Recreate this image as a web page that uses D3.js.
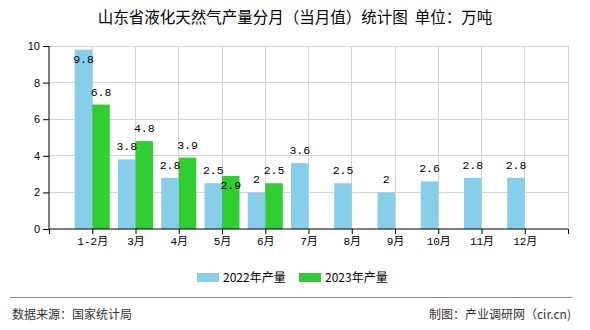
<!DOCTYPE html>
<html><head><meta charset="utf-8">
<script src="https://cdn.jsdelivr.net/npm/d3@7"></script>
<style>
html,body{margin:0;padding:0;background:#fff;}
svg{display:block;}
</style></head>
<body>
<svg id="chart" width="590" height="330"></svg>
<script>
const categories = ["1-2月","3月","4月","5月","6月","7月","8月","9月","10月","11月","12月"];
const values2022 = [9.8,3.8,2.8,2.5,2,3.6,2.5,2,2.6,2.8,2.8];
const values2023 = [6.8,4.8,3.9,2.9,2.5,null,null,null,null,null,null];
const seriesNames = ["2022年产量","2023年产量"];
const seriesColors = ["#87CEEB","#32CD32"];
const yTicks = [0,2,4,6,8,10];
// labels drawn inside the bar (series index, category)
const insideLabels = [[0,"1-2月"],[1,"5月"]];

(function(){
const svg = d3.select("#chart");
const pL = 49, pR = 568, pT = 46, pB = 229;

const x = d3.scaleLinear().domain([0, categories.length + 1]).range([pL, pR]);
const y = d3.scaleLinear().domain([0, 10]).range([pB, pT]);
const unit = x(1) - x(0);
const bw = unit * 0.405;

const numFont = "'Liberation Mono','Noto Sans CJK SC',monospace";
const cjkFont = "'Noto Sans CJK SC','Noto Sans',sans-serif";

// title
svg.append("text").attr("x", 295).attr("y", 23).attr("text-anchor", "middle")
  .attr("font-family", cjkFont).attr("font-size", 15.5).attr("fill", "#000")
  .attr("xml:space", "preserve").style("white-space", "pre")
  .text("山东省液化天然气产量分月（当月值）统计图  单位：万吨");

// grid
const grid = svg.append("g");
yTicks.filter(t => t > 0).forEach(t => {
  grid.append("line").attr("x1", pL).attr("x2", pR).attr("y1", y(t)).attr("y2", y(t))
    .attr("stroke", "#d3d3d3").attr("stroke-width", 1).attr("shape-rendering", "crispEdges");
});
d3.range(1, categories.length + 2).forEach(i => {
  grid.append("line").attr("x1", x(i)).attr("x2", x(i)).attr("y1", pT).attr("y2", pB)
    .attr("stroke", "#d3d3d3").attr("stroke-width", 1).attr("shape-rendering", "crispEdges");
});

// bars
const series = [values2022, values2023];
series.forEach((vals, si) => {
  const g = svg.append("g");
  vals.forEach((v, i) => {
    if (v == null) return;
    const cx = x(i + 1);
    const bx = si === 0 ? cx - bw : cx;
    g.append("rect").attr("x", bx).attr("y", y(v)).attr("width", bw).attr("height", pB - y(v))
      .attr("fill", seriesColors[si]);
  });
});
// labels
series.forEach((vals, si) => {
  vals.forEach((v, i) => {
    if (v == null) return;
    const cx = x(i + 1);
    const lx = si === 0 ? cx - bw / 2 : cx + bw / 2;
    const inside = insideLabels.some(d => d[0] === si && d[1] === categories[i]);
    const ly = inside ? y(v) + 9 : y(v) - 13;
    svg.append("text").attr("x", lx).attr("y", ly).attr("dy", "0.35em")
      .attr("text-anchor", "middle").attr("font-family", numFont).attr("font-size", 11.5)
      .attr("fill", "#000").text(v);
  });
});

// y axis
const yAxis = d3.axisLeft(y).tickValues(yTicks).tickSize(6).tickPadding(3).tickFormat(d3.format("d"));
const ya = svg.append("g").attr("transform", `translate(${pL},0)`).call(yAxis);
ya.select(".domain").attr("stroke", "#000").attr("d", `M0,${pT}V${pB}`);
ya.selectAll("text").attr("font-family", "'Liberation Sans',Arial,sans-serif").attr("font-size", 11).attr("fill", "#000");

// x axis
const xAxis = d3.axisBottom(x).tickValues(d3.range(0, categories.length + 2)).tickSize(5).tickPadding(3)
  .tickFormat(i => (i >= 1 && i <= categories.length) ? categories[i - 1] : "");
const xa = svg.append("g").attr("transform", `translate(0,${pB})`).call(xAxis);
xa.select(".domain").attr("stroke", "#000").attr("d", `M${pL},0H${pR}`);
xa.selectAll("text").attr("font-family", numFont).attr("font-size", 11).attr("fill", "#000");
xa.selectAll("line").attr("stroke", "#000");

// legend
const legend = svg.append("g");
const lx0 = [197, 299];
seriesNames.forEach((n, si) => {
  legend.append("rect").attr("x", lx0[si]).attr("y", 273).attr("width", 22).attr("height", 9).attr("fill", seriesColors[si]);
  legend.append("text").attr("x", lx0[si] + 26).attr("y", 278).attr("dy", "0.35em")
    .attr("font-family", cjkFont).attr("font-size", 12).attr("fill", "#000").text(n);
});

// footer
svg.append("line").attr("x1", 10).attr("x2", 572).attr("y1", 297.5).attr("y2", 297.5).attr("stroke", "#888").attr("stroke-width", 1);
svg.append("text").attr("x", 12).attr("y", 315).attr("dy", "0.35em").attr("font-family", cjkFont)
  .attr("font-size", 12).attr("fill", "#333").text("数据来源：国家统计局");
svg.append("text").attr("x", 571).attr("y", 315).attr("dy", "0.35em").attr("text-anchor", "end").attr("font-family", cjkFont)
  .attr("font-size", 12).attr("fill", "#333").text("制图：产业调研网（cir.cn)");
})();
</script>
</body></html>
